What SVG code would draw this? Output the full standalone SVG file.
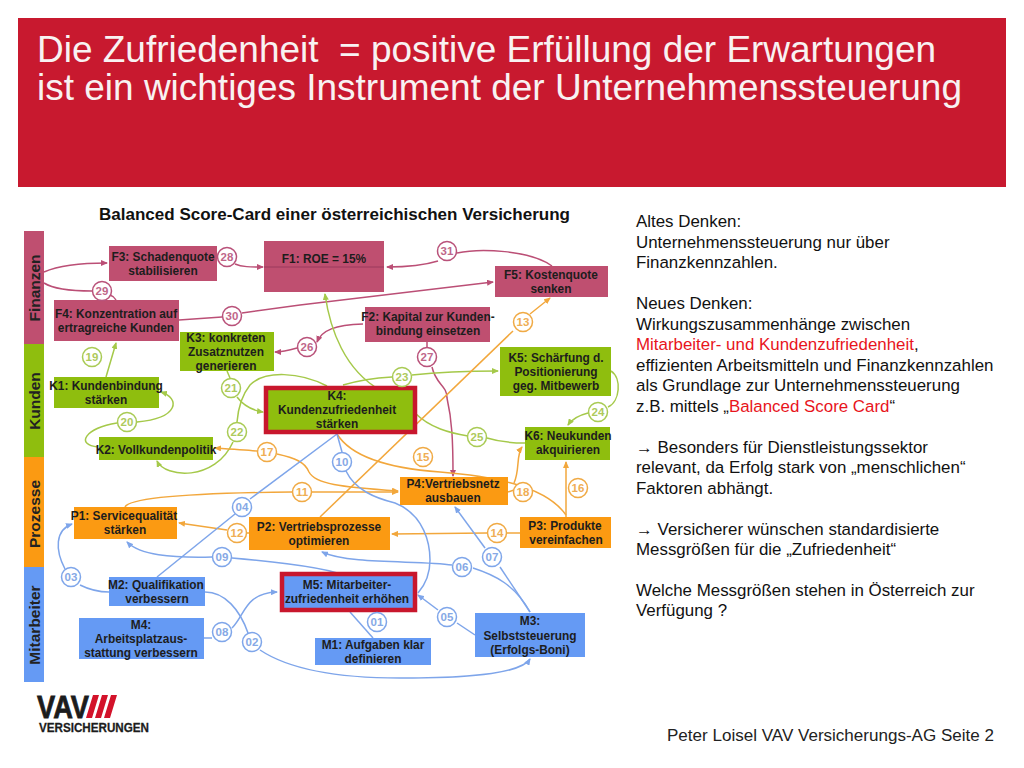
<svg xmlns="http://www.w3.org/2000/svg" width="1024" height="768" viewBox="0 0 1024 768">
<style>
text{font-family:"Liberation Sans",Arial,sans-serif}
.t{font-size:11.9px;font-weight:bold;fill:#1d1d1d;text-anchor:middle}
.band{font-size:15.5px;font-weight:bold;fill:#222;text-anchor:middle}
.side{font-size:16.9px;fill:#111}
.red{fill:#e8141c}
.n{font-size:11.5px;font-weight:bold;text-anchor:middle}
.pk{fill:#bf4f70}.gr{fill:#8fbe0e}.or{fill:#fb9a12}.bl{fill:#659af4}
circle{fill:#fff;stroke-width:1.5}
.cp{stroke:#b9527a}.cg{stroke:#a9cb55}.co{stroke:#f0aa45}.cb{stroke:#7fa6ea}
.np{fill:#c0668a}.ng{fill:#aeca5c}.no{fill:#efae55}.nb{fill:#86a9e6}
#connectors path{fill:none;stroke-width:1.5}
.lp{stroke:#bb4f76;marker-end:url(#ap)}.lg{stroke:#a5c94a;marker-end:url(#ag)}.lo{stroke:#f2a73c;marker-end:url(#ao)}.lb{stroke:#7ea5ea;marker-end:url(#ab)}
.sp{stroke:#bb4f76}.sg{stroke:#a5c94a}.so{stroke:#f2a73c}.sb{stroke:#7ea5ea}
</style>
<defs>
<marker id="ap" markerWidth="7" markerHeight="6" refX="6" refY="3" orient="auto" markerUnits="userSpaceOnUse"><path d="M0,0L7,3L0,6Z" fill="#bb4f76"/></marker>
<marker id="ag" markerWidth="7" markerHeight="6" refX="6" refY="3" orient="auto" markerUnits="userSpaceOnUse"><path d="M0,0L7,3L0,6Z" fill="#a5c94a"/></marker>
<marker id="ao" markerWidth="7" markerHeight="6" refX="6" refY="3" orient="auto" markerUnits="userSpaceOnUse"><path d="M0,0L7,3L0,6Z" fill="#f2a73c"/></marker>
<marker id="ab" markerWidth="7" markerHeight="6" refX="6" refY="3" orient="auto" markerUnits="userSpaceOnUse"><path d="M0,0L7,3L0,6Z" fill="#7ea5ea"/></marker>
</defs>
<rect width="1024" height="768" fill="#fff"/>
<g id="header">
<rect x="18" y="18" width="988" height="169" fill="#c8192f"/>
<text x="37" y="62" font-size="36" fill="#f8f2f2" textLength="899" lengthAdjust="spacingAndGlyphs" xml:space="preserve">Die Zufriedenheit  = positive Erfüllung der Erwartungen</text>
<text x="37" y="100" font-size="36" fill="#f8f2f2" textLength="925" lengthAdjust="spacingAndGlyphs">ist ein wichtiges Instrument der Unternehmenssteuerung</text>
</g>
<text id="subtitle" x="99" y="220" font-size="16" font-weight="bold" fill="#111" textLength="471" lengthAdjust="spacingAndGlyphs">Balanced Score-Card einer österreichischen Versicherung</text>
<g id="bands">
<rect x="24" y="231" width="20" height="113" class="pk"/>
<rect x="24" y="344" width="20" height="113" class="gr"/>
<rect x="24" y="457" width="20" height="110" class="or"/>
<rect x="24" y="567" width="20" height="115" class="bl"/>
<text class="band" transform="translate(40,288) rotate(-90)">Finanzen</text>
<text class="band" transform="translate(40,401) rotate(-90)">Kunden</text>
<text class="band" transform="translate(40,514) rotate(-90)">Prozesse</text>
<text class="band" transform="translate(40,625) rotate(-90)">Mitarbeiter</text>
</g>
<g id="connectors">
<path class="lp" d="M44,272C60,265 85,263 107,263"/>
<path class="sp" d="M44,283C55,290 75,291 92,291"/>
<path class="sp" d="M110,295C113,296 115,298 116,300"/>
<path class="lp" d="M235,264C242,267 250,267 263,267"/>
<path class="lp" d="M438,261C425,265 405,267 387,267"/>
<path class="sp" d="M457,253C480,248 530,250 552,266"/>
<path class="sp" d="M179,320L222,317"/>
<path class="lp" d="M242,313L300,305L493,282"/>
<path class="lp" d="M363,324C335,325 322,330 317,342"/>
<path class="lp" d="M297,348C290,350 283,352 275,352"/>
<path class="sp" d="M427,342V347"/>
<path class="lp" d="M432,367C436,385 447,385 447,398C452,420 453,440 453,476"/>
<path class="lg" d="M106,377L116,343"/>
<path class="lg" d="M137,422C180,418 180,398 161,392"/>
<path class="sg" d="M117,423C85,428 75,445 98,447"/>
<path class="lg" d="M233,442C215,482 165,478 157,461"/>
<path class="sg" d="M327,386C300,372 265,370 250,385C242,395 238,410 237,422"/>
<path class="sg" d="M227,371L230,378"/>
<path class="lg" d="M237,397C243,405 250,410 263,412"/>
<path class="lg" d="M380,390C345,370 330,330 325,294"/>
<path class="sg" d="M343,385C360,380 375,378 392,377"/>
<path class="lg" d="M412,375C440,372 470,371 498,371"/>
<path class="sg" d="M611,371C622,378 620,402 608,407"/>
<path class="lg" d="M588,413C580,415 572,419 568,425"/>
<path class="sg" d="M415,413C430,428 450,433 468,436"/>
<path class="sg" d="M487,438C500,442 512,443 525,443"/>
<path class="so" d="M320,517L513,331"/>
<path class="lo" d="M530,314L550,298"/>
<path class="lo" d="M566,517V462"/>
<path class="so" d="M508,492L514,490"/>
<path class="lo" d="M514,483C520,470 516,455 522,447"/>
<path class="so" d="M337,434C350,455 385,468 440,472C490,476 545,485 566,515"/>
<path class="lo" d="M257,451C245,450 230,449 215,448"/>
<path class="lo" d="M277,454C295,458 305,462 309,472C315,484 340,487 398,491"/>
<path class="so" d="M125,507C130,497 200,493 292,492"/>
<path class="lo" d="M312,492H398"/>
<path class="so" d="M249,533H247"/>
<path class="lo" d="M227,530L179,523"/>
<path class="so" d="M520,533H507"/>
<path class="lo" d="M487,533L392,534"/>
<path class="sb" d="M157,577L235,514"/>
<path class="sb" d="M250,499L337,434"/>
<path class="sb" d="M337,434L342,452"/>
<path class="sb" d="M346,471C355,490 375,498 395,503C425,515 430,545 430,560C430,575 425,585 418,593"/>
<path class="sb" d="M347,577C335,570 300,564 232,558"/>
<path class="lb" d="M212,557C170,558 140,555 127,542"/>
<path class="sb" d="M109,592C100,592 90,590 80,585"/>
<path class="lb" d="M65,569C55,550 55,530 72,524"/>
<path class="sb" d="M204,638H212"/>
<path class="lb" d="M232,628C245,615 245,593 277,592"/>
<path class="sb" d="M205,592C225,592 240,610 248,633"/>
<path class="lb" d="M260,650C290,670 340,678 400,678C460,678 520,675 530,659"/>
<path class="sb" d="M350,612L373,638"/>
<path class="lb" d="M438,610L418,595"/>
<path class="sb" d="M457,623L475,635"/>
<path class="sb" d="M530,612C515,585 495,575 473,568"/>
<path class="lb" d="M452,565C420,560 350,565 322,552"/>
<path class="sb" d="M530,612L500,567"/>
<path class="lb" d="M485,548L455,507"/>
</g>
<g id="F3"><rect x="109" y="246" width="108" height="35" class="pk"/><text class="t" x="163" y="261">F3: Schadenquote</text><text class="t" x="163" y="275">stabilisieren</text></g>
<g id="F1"><rect x="264" y="241" width="120" height="51" class="pk"/><path d="M264,267H384" stroke="#9a3a5c" stroke-width="1"/><text class="t" x="324" y="263">F1: ROE = 15%</text></g>
<g id="F4"><rect x="54" y="300" width="125" height="41" class="pk"/><text class="t" x="116" y="318">F4: Konzentration auf</text><text class="t" x="116" y="332">ertragreiche Kunden</text></g>
<g id="F5"><rect x="495" y="266" width="113" height="31" class="pk"/><text class="t" x="551" y="279">F5: Kostenquote</text><text class="t" x="551" y="293">senken</text></g>
<g id="F2"><rect x="365" y="307" width="125" height="35" class="pk"/><text class="t" x="428" y="321">F2: Kapital zur Kunden-</text><text class="t" x="428" y="335">bindung einsetzen</text></g>
<g id="K3"><rect x="180" y="332" width="94" height="39" class="gr"/><text class="t" x="226" y="342">K3: konkreten</text><text class="t" x="226" y="356">Zusatznutzen</text><text class="t" x="226" y="370">generieren</text></g>
<g id="K1"><rect x="54" y="377" width="105" height="31" class="gr"/><text class="t" x="106" y="390">K1: Kundenbindung</text><text class="t" x="106" y="404">stärken</text></g>
<g id="K2"><rect x="99" y="437" width="114" height="23" class="gr"/><text class="t" x="156" y="454">K2: Vollkundenpolitik</text></g>
<g id="K4"><rect x="266" y="388" width="149" height="44" fill="#8fbe0e" stroke="#c8172d" stroke-width="4.5"/><rect x="269" y="391" width="141" height="38" class="gr"/><text class="t" x="337" y="400">K4:</text><text class="t" x="337" y="414">Kundenzufriedenheit</text><text class="t" x="337" y="428">stärken</text></g>
<g id="K5"><rect x="500" y="347" width="111" height="49" class="gr"/><text class="t" x="556" y="362">K5: Schärfung d.</text><text class="t" x="556" y="376">Positionierung</text><text class="t" x="556" y="390">geg. Mitbewerb</text></g>
<g id="K6"><rect x="525" y="427" width="85" height="33" class="gr"/><text class="t" x="568" y="440">K6: Neukunden</text><text class="t" x="568" y="454">akquirieren</text></g>
<g id="P1"><rect x="74" y="507" width="103" height="32" class="or"/><text class="t" x="124" y="520">P1: Servicequalität</text><text class="t" x="125" y="534">stärken</text></g>
<g id="P2"><rect x="249" y="517" width="141" height="33" class="or"/><text class="t" x="319" y="531">P2: Vertriebsprozesse</text><text class="t" x="319" y="545">optimieren</text></g>
<g id="P4"><rect x="400" y="477" width="108" height="28" class="or"/><text class="t" x="453" y="488">P4:Vertriebsnetz</text><text class="t" x="453" y="502">ausbauen</text></g>
<g id="P3"><rect x="520" y="517" width="91" height="31" class="or"/><text class="t" x="565" y="530">P3: Produkte</text><text class="t" x="566" y="544">vereinfachen</text></g>
<g id="M2"><rect x="109" y="577" width="96" height="29" class="bl"/><text class="t" x="156" y="589">M2: Qualifikation</text><text class="t" x="157" y="603">verbessern</text></g>
<g id="M4"><rect x="79" y="618" width="125" height="41" class="bl"/><text class="t" x="141" y="629">M4:</text><text class="t" x="141" y="643">Arbeitsplatzaus-</text><text class="t" x="141" y="657">stattung verbessern</text></g>
<g id="M5"><rect x="282" y="574" width="133" height="36" fill="#659af4" stroke="#c8172d" stroke-width="4.5"/><rect x="285" y="578" width="126" height="29" class="bl"/><text class="t" x="347" y="589">M5: Mitarbeiter-</text><text class="t" x="347" y="603">zufriedenheit erhöhen</text></g>
<g id="M1"><rect x="315" y="638" width="116" height="27" class="bl"/><text class="t" x="373" y="649">M1: Aufgaben klar</text><text class="t" x="373" y="663">definieren</text></g>
<g id="M3"><rect x="475" y="613" width="110" height="44" class="bl"/><text class="t" x="530" y="625">M3:</text><text class="t" x="530" y="640">Selbststeuerung</text><text class="t" x="530" y="654">(Erfolgs-Boni)</text></g>
<g id="c28"><circle cx="227" cy="257" r="9.5" class="cp"/><text class="n np" x="227" y="261">28</text></g>
<g id="c29"><circle cx="102" cy="291" r="9.5" class="cp"/><text class="n np" x="102" y="295">29</text></g>
<g id="c30"><circle cx="232" cy="316" r="9.5" class="cp"/><text class="n np" x="232" y="320">30</text></g>
<g id="c26"><circle cx="307" cy="347" r="9.5" class="cp"/><text class="n np" x="307" y="351">26</text></g>
<g id="c31"><circle cx="447" cy="251" r="9.5" class="cp"/><text class="n np" x="447" y="255">31</text></g>
<g id="c27"><circle cx="427" cy="357" r="9.5" class="cp"/><text class="n np" x="427" y="361">27</text></g>
<g id="c19"><circle cx="92" cy="357" r="9.5" class="cg"/><text class="n ng" x="92" y="361">19</text></g>
<g id="c21"><circle cx="231" cy="388" r="9.5" class="cg"/><text class="n ng" x="231" y="392">21</text></g>
<g id="c22"><circle cx="237" cy="432" r="9.5" class="cg"/><text class="n ng" x="237" y="436">22</text></g>
<g id="c20"><circle cx="127" cy="422" r="9.5" class="cg"/><text class="n ng" x="127" y="426">20</text></g>
<g id="c23"><circle cx="402" cy="377" r="9.5" class="cg"/><text class="n ng" x="402" y="381">23</text></g>
<g id="c24"><circle cx="598" cy="412" r="9.5" class="cg"/><text class="n ng" x="598" y="416">24</text></g>
<g id="c25"><circle cx="477" cy="437" r="9.5" class="cg"/><text class="n ng" x="477" y="441">25</text></g>
<g id="c17"><circle cx="267" cy="452" r="9.5" class="co"/><text class="n no" x="267" y="456">17</text></g>
<g id="c13"><circle cx="523" cy="322" r="9.5" class="co"/><text class="n no" x="523" y="326">13</text></g>
<g id="c15"><circle cx="423" cy="457" r="9.5" class="co"/><text class="n no" x="423" y="461">15</text></g>
<g id="c11"><circle cx="302" cy="492" r="9.5" class="co"/><text class="n no" x="302" y="496">11</text></g>
<g id="c18"><circle cx="523" cy="492" r="9.5" class="co"/><text class="n no" x="523" y="496">18</text></g>
<g id="c16"><circle cx="578" cy="488" r="9.5" class="co"/><text class="n no" x="578" y="492">16</text></g>
<g id="c12"><circle cx="237" cy="533" r="9.5" class="co"/><text class="n no" x="237" y="537">12</text></g>
<g id="c14"><circle cx="497" cy="533" r="9.5" class="co"/><text class="n no" x="497" y="537">14</text></g>
<g id="c10"><circle cx="342" cy="462" r="9.5" class="cb"/><text class="n nb" x="342" y="466">10</text></g>
<g id="c04"><circle cx="242" cy="507" r="9.5" class="cb"/><text class="n nb" x="242" y="511">04</text></g>
<g id="c09"><circle cx="222" cy="557" r="9.5" class="cb"/><text class="n nb" x="222" y="561">09</text></g>
<g id="c07"><circle cx="492" cy="557" r="9.5" class="cb"/><text class="n nb" x="492" y="561">07</text></g>
<g id="c06"><circle cx="462" cy="567" r="9.5" class="cb"/><text class="n nb" x="462" y="571">06</text></g>
<g id="c03"><circle cx="71" cy="577" r="9.5" class="cb"/><text class="n nb" x="71" y="581">03</text></g>
<g id="c08"><circle cx="222" cy="632" r="9.5" class="cb"/><text class="n nb" x="222" y="636">08</text></g>
<g id="c02"><circle cx="252" cy="642" r="9.5" class="cb"/><text class="n nb" x="252" y="646">02</text></g>
<g id="c01"><circle cx="377" cy="622" r="9.5" class="cb"/><text class="n nb" x="377" y="626">01</text></g>
<g id="c05"><circle cx="447" cy="617" r="9.5" class="cb"/><text class="n nb" x="447" y="621">05</text></g>
<g id="sidetext">
<text class="side" x="636" y="227">Altes Denken:</text>
<text class="side" x="636" y="248">Unternehmenssteuerung nur über</text>
<text class="side" x="636" y="268">Finanzkennzahlen.</text>
<text class="side" x="636" y="309">Neues Denken:</text>
<text class="side" x="636" y="330">Wirkungszusammenhänge zwischen</text>
<text class="side" x="636" y="350"><tspan class="red">Mitarbeiter- und Kundenzufriedenheit</tspan>,</text>
<text class="side" x="636" y="371">effizienten Arbeitsmitteln und Finanzkennzahlen</text>
<text class="side" x="636" y="391">als Grundlage zur Unternehmenssteuerung</text>
<text class="side" x="636" y="412">z.B. mittels „<tspan class="red">Balanced Score Card</tspan>“</text>
<text class="side" x="636" y="453" xml:space="preserve">→ Besonders für Dienstleistungssektor</text>
<text class="side" x="636" y="473">relevant, da Erfolg stark von „menschlichen“</text>
<text class="side" x="636" y="494">Faktoren abhängt.</text>
<text class="side" x="636" y="535" xml:space="preserve">→ Versicherer wünschen standardisierte</text>
<text class="side" x="636" y="555">Messgrößen für die „Zufriedenheit“</text>
<text class="side" x="636" y="596">Welche Messgrößen stehen in Österreich zur</text>
<text class="side" x="636" y="616">Verfügung ?</text>
</g>
<g id="logo">
<text x="37" y="718" font-size="31" font-weight="bold" fill="#1c1c1c" stroke="#1c1c1c" stroke-width=".8" textLength="52" lengthAdjust="spacingAndGlyphs">VAV</text>
<path d="M93,695h6l-7,23h-6zM102,695h6l-7,23h-6zM111,695h6l-7,23h-6z" fill="#d3122a"/>
<text x="39" y="732" font-size="13.5" font-weight="bold" fill="#1c1c1c" stroke="#1c1c1c" stroke-width=".3" textLength="110" lengthAdjust="spacingAndGlyphs">VERSICHERUNGEN</text>
</g>
<text id="footer" x="667" y="741" font-size="16" fill="#222" textLength="327" lengthAdjust="spacingAndGlyphs">Peter Loisel VAV Versicherungs-AG Seite 2</text>
</svg>
